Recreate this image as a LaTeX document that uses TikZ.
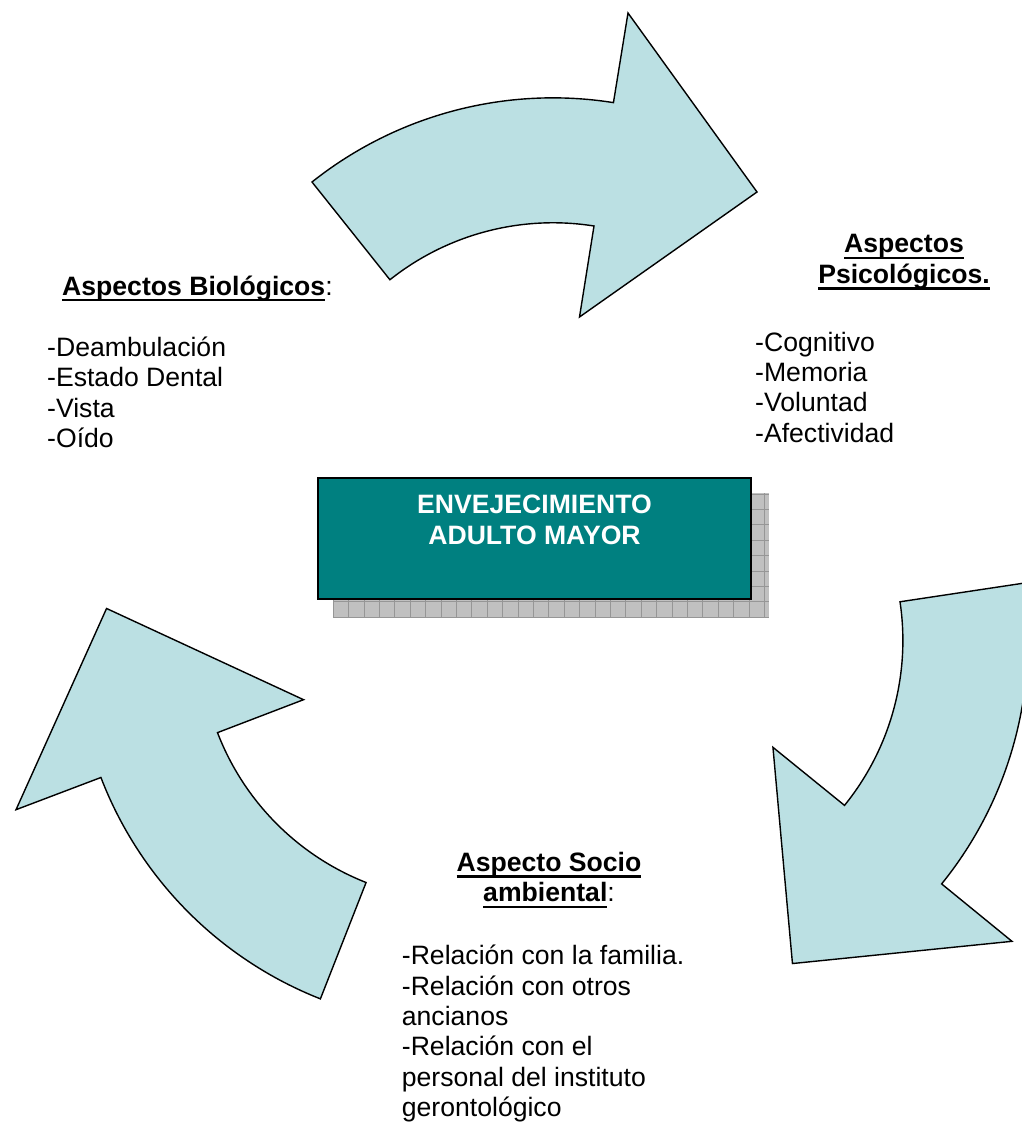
\documentclass[tikz,border=0pt]{standalone}
\usepackage{fontspec}
\setmainfont{Liberation Sans}
\usepackage{tikz}
\usetikzlibrary{backgrounds}

\definecolor{arrowblue}{RGB}{187,224,227}
\definecolor{coreteal}{RGB}{0,128,128}
\definecolor{shadowgray}{RGB}{192,192,192}
\definecolor{gridgray}{RGB}{150,150,150}

\newcommand{\undl}[1]{\setbox0=\hbox{#1}\rlap{\rule[-6.3pt]{\wd0}{2.2pt}}\box0}

\begin{document}
\begin{tikzpicture}
    [x=1pt,y=1pt,
     bigarrow/.style={draw=black,fill=arrowblue,line width=1.4pt,line join=miter},
     txt/.style={inner sep=0pt,font=\fontsize{26.6}{30.4}\selectfont},
     head/.style={txt,align=center,font=\fontsize{26.6}{30.4}\selectfont\bfseries},
     items/.style={txt,align=left}]
    \useasboundingbox (0,0) rectangle (1021,-1124);
    % the three bent arrows: one shape, turned round (552,-588)
    \draw [bigarrow] (312,-182) arc[start angle=128.5,end angle=81,radius=387pt]
      -- (628,-13) -- (757,-192) -- (579.5,-317) -- (594,-226)
      arc[start angle=81,end angle=128.5,radius=262pt] -- cycle;
    \draw [bigarrow,rotate around={-120:(552,-588)}] (312,-182) arc[start angle=128.5,end angle=81,radius=387pt]
      -- (628,-13) -- (757,-192) -- (579.5,-317) -- (594,-226)
      arc[start angle=81,end angle=128.5,radius=262pt] -- cycle;
    \draw [bigarrow,rotate around={120:(552,-588)}] (312,-182) arc[start angle=128.5,end angle=81,radius=387pt]
      -- (628,-13) -- (757,-192) -- (579.5,-317) -- (594,-226)
      arc[start angle=81,end angle=128.5,radius=262pt] -- cycle;
    % centre box with its grid shadow
    \node [draw=black,line width=2.3pt,fill=coreteal,minimum width=433pt,minimum height=121pt] (core) at (534.75,-538.75) {};
    \begin{scope}[on background layer]
      \fill [shadowgray] (333,-617) rectangle (769,-493);
      \draw [gridgray,line width=0.6pt,shift={(333,-617)}] (0,0) grid[step=15.4pt] (436,124);
    \end{scope}
    % (base = baseline of the last line)
    \node [head,text=white] (coretext) [anchor=base] at (534.5,-544) {ENVEJECIMIENTO\\ADULTO MAYOR};
    % the three groups of aspects
    \node [head] (biohead) [anchor=base west] at (62,-295) {\undl{Aspectos Biológicos}{\mdseries :}};
    \node [items] (biolist) [anchor=base west] at (47,-447.5) {-Deambulación\\-Estado Dental\\-Vista\\-Oído};
    \node [head] (psihead) [anchor=base] at (904,-283.3) {\undl{Aspectos}\\\undl{Psicológicos.}};
    \node [items] (psilist) [anchor=base west] at (755,-442.3) {-Cognitivo\\-Memoria\\-Voluntad\\-Afectividad};
    \node [head] (sochead) [anchor=base] at (549,-901.7) {\undl{Aspecto Socio}\\\undl{ambiental}{\mdseries :}};
    \node [items] (soclist) [anchor=base west] at (401.7,-1116.7) {-Relación con la familia.\\-Relación con otros\\ancianos\\-Relación con el\\personal del instituto\\gerontológico};
  \end{tikzpicture}
\end{document}
